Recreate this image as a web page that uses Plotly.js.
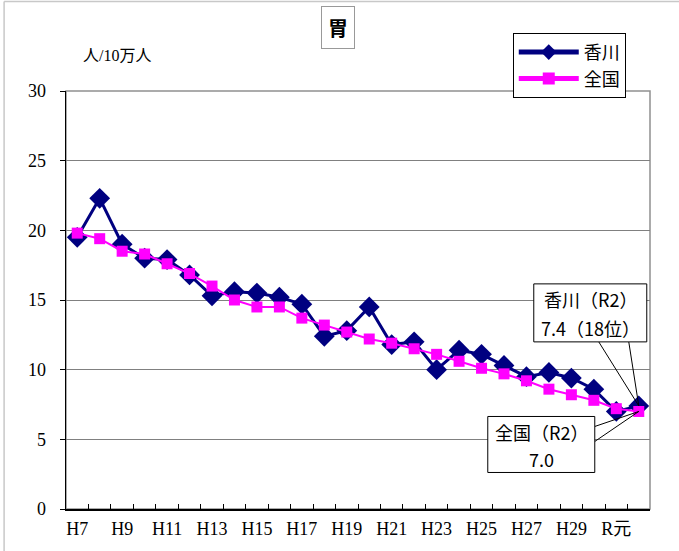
<!DOCTYPE html>
<html>
<head>
<meta charset="utf-8">
<script src="https://cdn.plot.ly/plotly-3.0.1.min.js"></script>
<style>html,body{margin:0;padding:0;background:#fff;}#chart{width:679px;height:551px;}</style>
</head>
<body>
<div id="chart"></div>
<script>
const categories = ['H7','H8','H9','H10','H11','H12','H13','H14','H15','H16','H17','H18','H19','H20','H21','H22','H23','H24','H25','H26','H27','H28','H29','H30','R元','R2'];
const tickLabels = ['H7','','H9','','H11','','H13','','H15','','H17','','H19','','H21','','H23','','H25','','H27','','H29','','R元',''];
const kagawa = [19.5,22.3,19.0,18.0,17.9,16.8,15.3,15.6,15.5,15.2,14.7,12.4,12.8,14.5,11.8,12.0,10.0,11.4,11.1,10.3,9.5,9.8,9.4,8.6,7.0,7.4];
const zenkoku = [19.8,19.4,18.5,18.3,17.6,16.9,16.0,15.0,14.5,14.5,13.7,13.2,12.7,12.2,11.9,11.5,11.1,10.6,10.1,9.7,9.2,8.6,8.2,7.8,7.2,7.0];
const seriesNames = ['香川','全国'];
const chartTitle = '胃';
const yUnit = '人/10万人';
const kagawaNote = ['香川（R2）', '7.4（18位）'];
const zenkokuNote = ['全国（R2）', '7.0'];

const serif = '"Liberation Serif", "DejaVu Serif", "Noto Sans CJK JP", serif';
const sans = '"Noto Sans CJK JP", "Noto Sans", sans-serif';
const lastIdx = categories.length - 1;
const lastCat = categories[lastIdx];
const lastK = kagawa[lastIdx];
const lastZ = zenkoku[lastIdx];

const traces = [
  {x: categories, y: kagawa, name: seriesNames[0], type: 'scatter', mode: 'lines+markers',
   line: {color: '#000080', width: 3}, marker: {symbol: 'diamond', size: 16, color: '#000080'}},
  {x: categories, y: zenkoku, name: seriesNames[1], type: 'scatter', mode: 'lines+markers',
   line: {color: '#FF00FF', width: 2}, marker: {symbol: 'square', size: 11, color: '#FF00FF'}}
];

// callout pieces anchored at a data point, offsets in pixels (y up)
function pointer(yv, dx, dy) {
  return {type: 'line', xref: 'x', yref: 'y', xsizemode: 'pixel', ysizemode: 'pixel',
    xanchor: lastIdx, yanchor: yv, x0: dx, y0: dy, x1: 0, y1: 0,
    line: {color: '#000', width: 1}, layer: 'above'};
}
function calloutBox(yv, x0, x1, y0, y1) {
  return {type: 'rect', xref: 'x', yref: 'y', xsizemode: 'pixel', ysizemode: 'pixel',
    xanchor: lastIdx, yanchor: yv, x0: x0, x1: x1, y0: y0, y1: y1,
    line: {color: '#000', width: 1}, fillcolor: '#fff', layer: 'above'};
}
function calloutText(yv, txt, dx, dy) {
  return {x: lastCat, y: yv, xref: 'x', yref: 'y', text: txt, showarrow: false,
    xanchor: 'center', yanchor: 'middle', xshift: dx, yshift: dy,
    font: {family: sans, size: 18, color: '#000'}};
}

const layout = {
  width: 679, height: 551,
  margin: {l: 66, r: 29, t: 91, b: 42},
  paper_bgcolor: '#fff', plot_bgcolor: '#fff',
  showlegend: true,
  legend: {x: 0.765, y: 1.139, xanchor: 'left', yanchor: 'top', bordercolor: '#000', borderwidth: 1,
    bgcolor: '#fff', font: {family: serif, size: 18, color: '#000'}, itemwidth: 60, itemsizing: 'constant', tracegroupgap: 0},
  xaxis: {type: 'category', categoryorder: 'array', categoryarray: categories, range: [-0.5, categories.length - 0.5],
    tickmode: 'array', tickvals: categories, ticktext: tickLabels, tickson: 'boundaries', tickangle: 0,
    ticks: 'inside', ticklen: 5, tickcolor: '#000', showgrid: false,
    showline: true, linecolor: '#000', linewidth: 1.5,
    tickfont: {family: serif, size: 18, color: '#000'}, ticklabelstandoff: 3, zeroline: false, fixedrange: true},
  yaxis: {range: [0, 30], dtick: 5, tick0: 0, ticks: 'outside', ticklen: 5, tickcolor: '#000',
    showline: true, linecolor: '#000', linewidth: 1.5, showgrid: true, gridcolor: '#808080', gridwidth: 1,
    zeroline: false, tickfont: {family: serif, size: 18, color: '#000'}, ticklabelstandoff: 10, fixedrange: true},
  shapes: [
    {type: 'rect', xref: 'paper', yref: 'paper', x0: 0, x1: 1, y0: 0, y1: 1, line: {color: '#909090', width: 1.5}, layer: 'below'},
    {type: 'line', xref: 'paper', yref: 'paper', x0: -0.106, x1: 1.06, y0: 1.214, y1: 1.214, line: {color: '#c8c8c8', width: 1.5}},
    {type: 'line', xref: 'paper', yref: 'paper', x0: -0.106, x1: -0.106, y0: 1.214, y1: -0.11, line: {color: '#c8c8c8', width: 1.5}},
    pointer(lastK, -40, 64),
    pointer(lastK, -10, 64),
    pointer(lastZ, -44, -15),
    pointer(lastZ, -44, -30),
    calloutBox(lastK, -105, 8, 64, 122),
    calloutBox(lastZ, -151, -44, -5, -61)
  ],
  annotations: [
    {xref: 'paper', yref: 'paper', x: 0.465, y: 1.153, xanchor: 'center', yanchor: 'middle', text: chartTitle, showarrow: false,
     font: {family: sans, size: 20, color: '#000', weight: 'bold'}, bordercolor: '#999', borderwidth: 1, borderpad: 6, bgcolor: '#fff'},
    {xref: 'paper', yref: 'paper', x: 0.0873, y: 1.086, xanchor: 'center', yanchor: 'middle', text: yUnit, showarrow: false,
     font: {family: serif, size: 16, color: '#000'}},
    calloutText(lastK, kagawaNote[0], -48, 107),
    calloutText(lastK, kagawaNote[1], -48, 78),
    calloutText(lastZ, zenkokuNote[0], -97, -21),
    calloutText(lastZ, zenkokuNote[1], -97, -48)
  ]
};

Plotly.newPlot('chart', traces, layout, {staticPlot: true, displayModeBar: false});
</script>
</body>
</html>
